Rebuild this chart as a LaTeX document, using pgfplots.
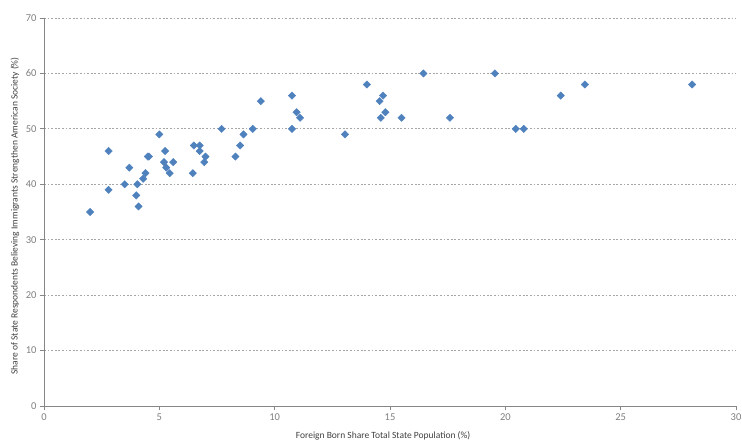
\documentclass[border=0pt]{standalone}
\usepackage{pgfplots}
\pgfplotsset{compat=1.18}
\usepackage{fontspec}
\setmainfont{Carlito}
\definecolor{ptblue}{HTML}{4F81BD}
\definecolor{axgray}{HTML}{868686}
\definecolor{gridgray}{HTML}{A6A6A6}
\definecolor{tickgray}{HTML}{7F7F7F}
\definecolor{labgray}{HTML}{404040}
\begin{document}
\begin{tikzpicture}
\begin{axis}[
  scale only axis,
  width=692pt, height=388pt,
  xmin=0, xmax=30, ymin=0, ymax=70,
  xtick={0,5,...,30}, ytick={0,10,...,70},
  axis x line*=bottom, axis y line*=left,
  axis line style={axgray, line width=0.8pt},
  tick align=outside, major tick length=4pt,
  tick style={axgray, line width=0.8pt},
  ymajorgrids,
  grid style={gridgray, dashed, dash pattern=on 1.8pt off 1.8pt, line width=0.8pt},
  /pgf/number format/assume math mode=true,
  ticklabel style={font=\fontsize{10.5}{12}\selectfont, text=tickgray},
  xlabel={Foreign Born Share Total State Population (\%)},
  ylabel={Share of State Respondents Believing Immigrants Strengthen American Society (\%)},
  label style={font=\fontsize{9.5}{11}\selectfont, text=labgray},
  xlabel style={at={(axis description cs:0.49,-0.078)}, anchor=center},
  ylabel style={at={(axis description cs:-0.042,0.49)}, anchor=center},
  clip=false,
]
\addplot[only marks, mark=square*, mark size=2.6pt, color=ptblue, mark options={rotate=45, fill=ptblue, draw=ptblue}] coordinates {
(2.0,35) (2.8,39) (2.8,46) (3.5,40) (3.7,43) (4.05,40) (4.0,38) (4.1,36)
(4.3,41) (4.4,42) (4.5,45) (4.55,45) (5.0,49) (5.25,46) (5.2,44) (5.3,43)
(5.45,42) (5.6,44) (6.45,42) (6.5,47) (6.75,47) (6.75,46) (7.0,45) (6.95,44)
(7.7,50) (8.3,45) (8.5,47) (8.65,49) (9.05,50) (9.4,55) (10.75,56) (10.75,50)
(10.95,53) (11.1,52) (13.05,49) (14.0,58) (14.55,55) (14.7,56) (14.6,52) (14.8,53)
(15.5,52) (16.45,60) (17.6,52) (19.55,60) (20.45,50) (20.8,50) (22.4,56) (23.45,58)
(28.1,58)
};
\end{axis}
\pgfresetboundingbox
\useasboundingbox ([xshift=-44pt,yshift=-35pt]current axis.south west) rectangle ([xshift=6pt,yshift=18pt]current axis.north east);
\end{tikzpicture}
\end{document}
